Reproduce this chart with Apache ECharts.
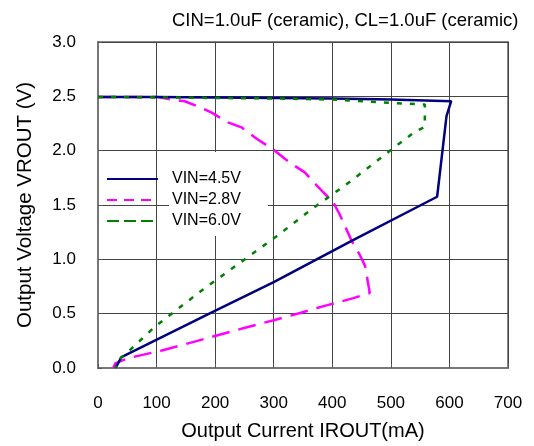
<!DOCTYPE html>
<html>
<head>
<meta charset="utf-8">
<title>VROUT vs IROUT</title>
<script src="https://cdn.jsdelivr.net/npm/echarts@6/dist/echarts.min.js"></script>
<style>
  html, body { margin: 0; padding: 0; background: #fff; }
  #chart { width: 534px; height: 446px; }
</style>
</head>
<body>
<div id="chart"></div>
<script>
// 数据
var xTicks = [0, 100, 200, 300, 400, 500, 600, 700];
var yTicks = [0.0, 0.5, 1.0, 1.5, 2.0, 2.5, 3.0];

// VIN=4.5V
var i45 = [0, 100, 200, 300, 400, 500, 603, 595, 579, 433, 300, 190, 40, 30];
var v45 = [2.495, 2.495, 2.49, 2.485, 2.48, 2.47, 2.455, 2.318, 1.576, 1.17, 0.79, 0.5, 0.1, 0];

// VIN=2.8V
var i28 = [0, 100, 127, 148, 174, 194, 222, 245, 271, 302, 319, 336, 353, 370, 385, 401, 413, 433, 447, 456, 464, 436, 390, 345, 300, 251, 165, 109, 52, 30, 26];
var v28 = [2.495, 2.495, 2.47, 2.455, 2.40, 2.35, 2.26, 2.215, 2.11, 2.0, 1.925, 1.86, 1.80, 1.70, 1.615, 1.53, 1.41, 1.17, 1.04, 0.94, 0.69, 0.643, 0.576, 0.506, 0.44, 0.37, 0.243, 0.161, 0.091, 0.045, 0];

// VIN=6.0V
var i60 = [0, 100, 200, 300, 400, 500, 558, 558, 540, 495, 430, 367, 305, 262, 177, 97, 52, 32, 30];
var v60 = [2.495, 2.49, 2.485, 2.48, 2.47, 2.44, 2.425, 2.22, 2.17, 1.985, 1.713, 1.47, 1.213, 1.045, 0.713, 0.38, 0.152, 0.06, 0];

var legendNames = ['VIN=4.5V', 'VIN=2.8V', 'VIN=6.0V'];

function zip(xs, ys) {
  return xs.map(function (x, k) { return [x, ys[k]]; });
}

var font = 'Liberation Sans, Arial, sans-serif';
var chart = echarts.init(document.getElementById('chart'));

var option = {
  animation: false,
  backgroundColor: '#fff',
  title: {
    text: 'CIN=1.0uF (ceramic), CL=1.0uF (ceramic)',
    left: 167,
    top: 6,
    textStyle: { fontFamily: font, fontSize: 18.5, fontWeight: 'normal', color: '#000' }
  },
  grid: {
    left: 98,
    right: 26,
    top: 42,
    bottom: 74,
    show: true,
    borderColor: '#888',
    borderWidth: 2
  },
  // 图例文字后面的白色底块
  graphic: [{
    type: 'rect',
    left: 169,
    top: 152,
    z: 1,
    shape: { width: 99, height: 84 },
    style: { fill: '#fff' }
  }],
  legend: {
    orient: 'vertical',
    left: 101,
    top: 166,
    itemWidth: 51,
    itemHeight: 14,
    itemGap: 5,
    z: 5,
    textStyle: { fontFamily: font, fontSize: 16, color: '#000', padding: [0, 0, 0, 9] },
    data: [
      { name: legendNames[0], itemStyle: { opacity: 0 }, lineStyle: { color: '#000080', width: 2, type: 'solid' } },
      { name: legendNames[1], itemStyle: { opacity: 0 }, lineStyle: { color: '#ff00ff', width: 2, type: [10, 7] } },
      { name: legendNames[2], itemStyle: { opacity: 0 }, lineStyle: { color: '#008000', width: 2, type: [12, 5] } }
    ]
  },
  xAxis: {
    type: 'value',
    min: xTicks[0],
    max: xTicks[xTicks.length - 1],
    interval: 100,
    name: 'Output Current IROUT(mA)',
    nameLocation: 'middle',
    nameGap: 53,
    nameTextStyle: { fontFamily: font, fontSize: 20, color: '#000' },
    axisLine: { show: true, lineStyle: { color: '#777', width: 2 } },
    axisTick: { show: true, inside: true, length: 4, lineStyle: { color: '#555' } },
    axisLabel: { fontFamily: font, fontSize: 17, color: '#000', margin: 27 },
    splitLine: { show: true, lineStyle: { color: '#444', width: 1 } }
  },
  yAxis: {
    type: 'value',
    min: yTicks[0],
    max: yTicks[yTicks.length - 1],
    interval: 0.5,
    name: 'Output Voltage VROUT (V)',
    nameLocation: 'middle',
    nameGap: 62,
    nameTextStyle: { fontFamily: font, fontSize: 20.5, color: '#000' },
    axisLine: { show: true, lineStyle: { color: '#777', width: 2 } },
    axisTick: { show: true, inside: true, length: 4, lineStyle: { color: '#555' } },
    axisLabel: {
      fontFamily: font, fontSize: 17, color: '#000', margin: 22,
      formatter: function (v) { return v.toFixed(1); }
    },
    splitLine: { show: true, lineStyle: { color: '#444', width: 1 } }
  },
  series: [
    {
      name: legendNames[0],
      type: 'line',
      data: zip(i45, v45),
      symbol: 'none',
      z: 4,
      itemStyle: { color: '#000080' },
      lineStyle: { color: '#000080', width: 2.5, type: 'solid' }
    },
    {
      name: legendNames[1],
      type: 'line',
      data: zip(i28, v28),
      symbol: 'none',
      z: 3,
      itemStyle: { color: '#ff00ff' },
      lineStyle: { color: '#ff00ff', width: 2.5, type: [18, 9] }
    },
    {
      name: legendNames[2],
      type: 'line',
      data: zip(i60, v60),
      symbol: 'none',
      z: 5,
      itemStyle: { color: '#008000' },
      lineStyle: { color: '#008000', width: 2.5, type: [5, 8] }
    }
  ]
};

chart.setOption(option);
</script>
</body>
</html>
